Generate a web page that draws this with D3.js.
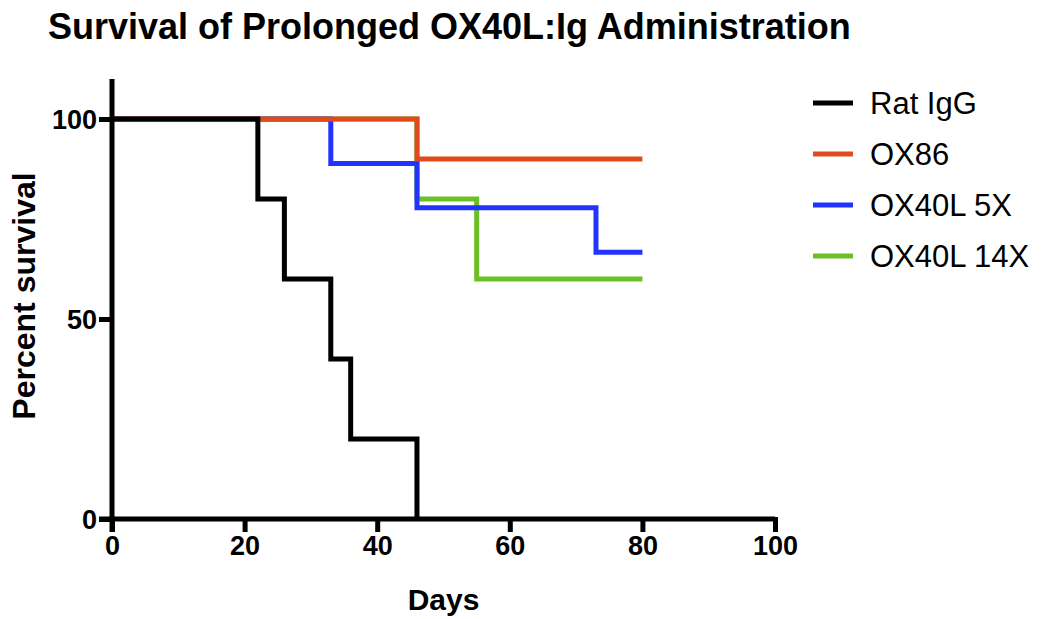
<!DOCTYPE html>
<meta charset="utf-8">
<style>
  body { margin: 0; background: #fff; }
  text { font-family: "Liberation Sans", Arial, sans-serif; fill: #000; }
  .axis path, .axis line { stroke: #000; stroke-width: 5px; }
  .axis text { font-weight: bold; font-size: 27px; }
</style>
<svg width="1042" height="619"></svg>
<script src="https://d3js.org/d3.v7.min.js"></script>
<script>
// Kaplan-Meier steps: [day, percent survival]
var ratIgG   = [[0, 100], [22, 80], [26, 60], [33, 40], [36, 20], [46, 0]];
var ox86     = [[0, 100], [46, 90], [80, 90]];
var ox40l5x  = [[0, 100], [33, 88.9], [46, 77.8], [73, 66.7], [80, 66.7]];
var ox40l14x = [[0, 100], [46, 80], [55, 60], [80, 60]];

var seriesNames  = ["Rat IgG", "OX86", "OX40L 5X", "OX40L 14X"];
var seriesColors = ["#000000", "#e04a1c", "#2233ff", "#6cbf26"];
var xTicks = [0, 20, 40, 60, 80, 100];
var yTicks = [0, 50, 100];

var svg = d3.select("svg");

var x = d3.scaleLinear().domain([0, 100]).range([112, 775]);
var y = d3.scaleLinear().domain([0, 110]).range([519, 79]);

// title
svg.append("text")
  .attr("x", 48).attr("y", 39)
  .style("font-weight", "bold").style("font-size", "36px")
  .text("Survival of Prolonged OX40L:Ig Administration");

// curves, drawn bottom to top
var line = d3.line()
  .x(function(d) { return x(d[0]); })
  .y(function(d) { return y(d[1]); })
  .curve(d3.curveStepAfter);

var all = [ratIgG, ox86, ox40l5x, ox40l14x];
[3, 2, 1, 0].forEach(function(i) {
  svg.append("path")
    .datum(all[i])
    .attr("d", line)
    .attr("fill", "none")
    .attr("stroke", seriesColors[i])
    .attr("stroke-width", 5)
    .attr("stroke-linejoin", "miter");
});

// axes
var xAxis = svg.append("g").attr("class", "axis")
  .attr("transform", "translate(0," + y(0) + ")")
  .call(d3.axisBottom(x).tickValues(xTicks).tickSize(13).tickSizeOuter(0).tickPadding(4));
xAxis.select(".domain").attr("d", "M" + (x(0) - 13) + ",0H" + x(100));
xAxis.selectAll(".tick line").attr("y1", -2);

var yAxis = svg.append("g").attr("class", "axis")
  .attr("transform", "translate(" + x(0) + ",0)")
  .call(d3.axisLeft(y).tickValues(yTicks).tickSize(13).tickSizeOuter(0).tickPadding(2));
yAxis.select(".domain").attr("d", "M0," + y(110) + "V" + (y(0) + 13));
yAxis.selectAll(".tick text").attr("dy", "0.36em");

// axis titles
svg.append("text")
  .attr("x", x(50)).attr("y", 610)
  .attr("text-anchor", "middle")
  .style("font-weight", "bold").style("font-size", "30px")
  .text("Days");

svg.append("text")
  .attr("transform", "translate(35,296) rotate(-90)")
  .attr("text-anchor", "middle")
  .style("font-weight", "bold").style("font-size", "32px")
  .text("Percent survival");

// legend
var legend = svg.append("g").attr("transform", "translate(813,103)");
seriesNames.forEach(function(name, i) {
  var row = legend.append("g").attr("transform", "translate(0," + (i * 51) + ")");
  row.append("line")
    .attr("x1", 0).attr("x2", 40)
    .attr("stroke", seriesColors[i]).attr("stroke-width", 5);
  row.append("text")
    .attr("x", 57).attr("dy", "0.36em")
    .style("font-size", "31px")
    .text(name);
});
</script>
